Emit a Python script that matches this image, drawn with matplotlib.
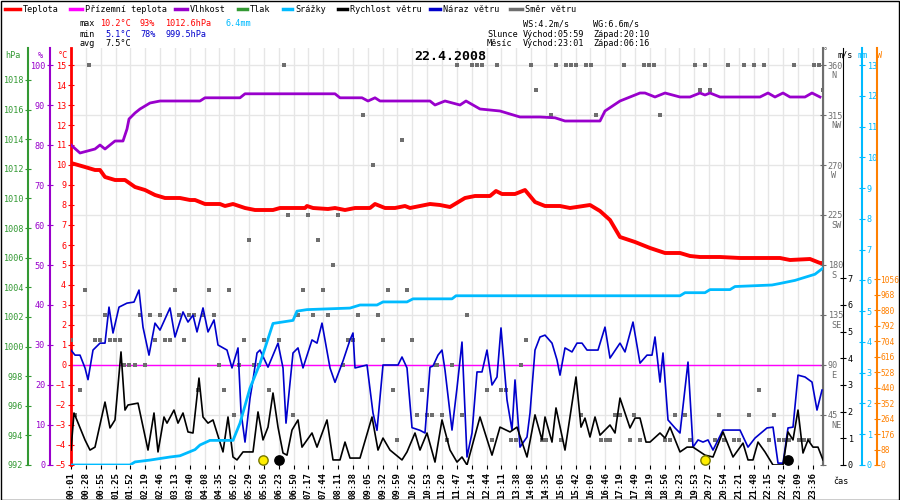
import matplotlib
matplotlib.use("Agg")
import matplotlib.pyplot as plt
from matplotlib.lines import Line2D
import numpy as np

plt.rcParams['font.family'] = ['DejaVu Sans Mono']
FS = 6.1

# ---- data (x = position on the time axis, one label step = 14.84) ----
time_labels = ["00:01","00:28","00:55","01:25","01:52","02:19","02:46","03:13","03:40","04:08",
               "04:35","05:02","05:29","05:56","06:23","06:50","07:17","07:44","08:11","08:38",
               "09:05","09:32","09:59","10:26","10:53","11:20","11:47","12:14","12:44","13:11",
               "13:38","14:08","14:35","15:05","15:42","16:09","16:46","17:19","17:49","18:19",
               "18:56","19:23","19:53","20:27","20:54","21:21","21:48","22:15","22:42","23:09","23:36"]
STEP = 14.84

temp_x = [0,14,24,29,34,44,54,64,74,84,94,109,119,124,134,149,154,162,174,184,202,209,234,236,242,
          257,264,274,284,299,304,314,324,334,339,349,359,369,379,394,404,419,425,431,444,454,464,
          474,489,499,519,529,539,549,564,579,594,609,619,629,649,669,709,719,739,749,752]
temp_y = [10.1,9.9,9.75,9.75,9.4,9.25,9.25,8.9,8.75,8.5,8.35,8.35,8.25,8.25,8.05,8.05,7.95,8.05,7.85,
          7.75,7.75,7.85,7.85,7.95,7.85,7.8,7.85,7.75,7.85,7.85,8.05,7.85,7.85,7.95,7.85,7.95,8.05,
          8.0,7.9,8.35,8.45,8.45,8.7,8.55,8.55,8.75,8.15,7.95,7.95,7.85,8.0,7.7,7.25,6.4,6.15,5.85,
          5.6,5.6,5.45,5.4,5.4,5.35,5.35,5.25,5.3,5.1,5.1]

hum_x = [0,9,24,29,34,44,52,56,58,64,69,79,89,129,134,169,174,264,269,291,297,304,309,359,364,374,
         389,395,409,429,449,469,484,494,529,534,549,559,569,574,584,594,609,619,629,634,639,649,
         689,697,704,712,719,734,741,749]
hum_y = [80,78,79,80,79,81,81,84,86.5,88,89,90.5,91,91,91.8,91.8,92.8,92.8,91.8,91.8,91,91.8,91,91,
         90,91,90,91,89,88.5,87,87,86.8,86,86,88.5,91,92,93,93,92,93,92,92,93,92.5,93,92,92,93,92,
         93,92,92,93,92]

rain_x = [0,59,64,79,99,109,124,129,139,162,169,179,189,202,222,226,236,279,289,306,312,336,342,
          381,385,609,614,634,639,659,664,701,709,724,734,744,752]
rain_y = [0,0,0.1,0.16,0.26,0.3,0.5,0.65,0.8,0.8,1.36,2.5,3.3,4.6,4.7,5.0,5.05,5.1,5.2,5.2,5.3,5.3,
          5.4,5.4,5.5,5.5,5.6,5.6,5.7,5.7,5.8,5.85,5.9,6.0,6.1,6.2,6.4]

ws_x = [0,3,14,19,24,34,39,44,50,54,57,67,77,83,87,93,96,103,107,112,117,122,128,132,137,142,152,
        157,162,166,172,182,187,192,197,202,207,212,216,221,227,231,241,246,256,262,269,274,279,
        289,301,307,312,319,331,336,344,349,356,364,371,379,386,391,396,409,421,429,439,446,456,
        464,471,474,481,485,494,505,510,514,519,524,529,539,544,549,554,559,564,569,575,579,589,
        594,599,609,616,622,634,642,652,662,672,677,682,687,694,702,712,717,722,727,732,737,742,
        747,752]
ws_y = [0.56,1.95,0.94,0.56,0.67,2.36,1.39,1.69,4.24,2.06,2.25,2.32,0.56,1.95,0.49,1.8,1.57,2.06,
        1.57,1.95,1.24,1.2,3.26,1.8,1.57,1.69,0.49,1.8,0.3,0.19,0.49,0.49,1.99,0.94,1.42,2.7,1.42,
        0.45,0.37,1.31,1.69,0.67,1.2,0.67,1.69,0.19,0.19,0.86,0.26,0.26,1.8,0.56,1.01,0.56,0.19,
        0.49,1.2,0.56,1.2,0.11,1.69,0.56,0.11,0.3,0,1.8,0.37,1.42,1.24,1.42,0.3,1.88,0.94,1.8,
        0.86,2.14,0.56,3.3,1.42,1.76,1.05,1.8,1.12,1.5,1.2,2.51,1.95,1.39,1.76,1.76,0.86,0.86,1.2,
        1.01,1.42,0.49,0.67,0.67,0.37,0.3,1.24,0.3,0.82,0.19,0.19,0.86,0.49,0,0,1.24,0.94,2.06,
        0.45,0.94,0.67,0.67,0.19]

wg_x = [0,4,9,14,17,22,29,34,38,42,48,56,63,68,72,78,84,89,99,104,112,117,122,126,132,137,143,
        147,156,161,167,170,174,179,182,186,189,197,207,212,215,222,227,232,241,246,251,259,264,
        272,279,282,284,296,302,306,312,327,331,336,341,349,354,359,362,367,371,374,381,386,391,
        396,401,406,411,416,421,426,430,436,441,444,449,456,459,464,469,474,481,486,489,494,501,
        506,511,516,527,534,539,549,554,562,569,576,581,584,589,592,597,604,609,617,622,627,632,
        637,642,652,669,677,684,696,702,707,712,717,722,727,734,741,746,751]
wg_y = [4.31,4.12,4.12,3.64,3.2,4.31,4.57,4.57,5.92,4.95,5.92,6.07,6.11,6.56,5.17,4.12,5.32,5.06,
        5.89,4.8,5.74,5.36,5.62,4.99,5.89,4.99,5.44,4.5,4.31,3.64,4.39,2.0,0.86,2.5,3.19,4.2,4.31,
        3.67,4.57,3.64,1.57,4.2,4.39,3.64,4.69,4.57,5.32,3.64,3.1,3.9,4.69,4.95,3.64,3.75,1.95,1.3,
        3.75,3.75,4.05,3.64,1.4,1.3,1.2,3.67,3.71,4.12,4.31,3.56,1.31,2.89,4.61,0.3,1.2,3.49,3.49,
        4.31,3.0,3.3,5.14,2.44,1.31,3.19,0.67,1.05,1.95,4.31,4.8,4.87,4.57,3.94,3.37,4.39,4.24,
        4.57,4.57,4.31,4.31,5.17,4.01,4.57,4.24,5.36,3.82,4.12,4.12,4.8,3.11,4.2,1.69,1.39,1.2,
        3.86,0.67,0.94,0.86,0.94,0.56,1.31,1.31,0.67,1.01,1.39,1.42,0.07,0.07,1.39,1.42,3.37,3.3,
        3.11,2.06,2.81]

wind_dir = {
    360: [18,213,386,401,406,411,426,460,485,495,500,505,515,520,553,573,578,583,624,634,657,673,
          683,693,723,743,748],
    337.5: [465,629,639,752],
    315: [292,480,525,589],
    292.5: [331],
    270: [302],
    225: [217,237,267],
    202.5: [178,247],
    180: [262],
    157.5: [14,104,138,158,232,252,317,336],
    135: [34,69,79,89,108,118,123,132,143,227,242,257,287,307,396],
    112.5: [0,24,29,39,44,49,84,94,99,113,173,193,208,277,282,312,341,455],
    90: [53,58,64,74,148,168,183,188,272,365,366,381,450],
    67.5: [9,127,153,198,322,351,416,430,435,688],
    45: [4,163,222,346,356,361,371,391,510,544,549,563,604,614,648,678,703],
    22.5: [326,376,421,440,445,471,475,490,530,535,539,559,569,594,599,619,644,653,663,668,698,
           708,713,718,728,733,738],
}
sun_x = [192, 634]
moon_x = [208, 717]

RED, MAG, PUR, GRN, CYAN, BLUE, GRAY, ORG = "#ff0000", "#ff00ff", "#9900cc", "#339933", "#00bbff", "#0000cc", "#6e6e6e", "#ff8000"

W, H = 900, 500
fig = plt.figure(figsize=(9, 5), dpi=100)
fig.patch.set_facecolor("white")
ax = fig.add_axes([71 / W, 35 / H, 752 / W, 417 / H])
XMAX = 752
TOP = 417 / 400  # fraction of axis above the top tick

def pfx(px):
    return (px - 71) / 752

ax.set_xlim(0, XMAX)
ax.set_ylim(-5, -5 + 20 * TOP)
xt = np.arange(len(time_labels)) * STEP
ax.set_xticks(xt)
ax.set_xticklabels(time_labels, rotation=90, fontsize=FS + 0.4, fontweight="bold")
ax.tick_params(axis="x", length=3, pad=2)
for x in xt:
    ax.axvline(x, color="#e6e6e6", lw=1, zorder=0)

# direction axis (right edge)
axd = ax.twinx()
axd.set_ylim(0, 360 * TOP)
axd.set_yticks(np.arange(0, 361, 45))
axd.set_yticklabels([str(v) if v else "" for v in range(0, 361, 45)], fontsize=FS, color=GRAY)
for v in range(45, 361, 45):
    ax.axhline(-5 + v / 18, color="#e6e6e6", lw=1, zorder=0)
for v, nm in zip(range(45, 361, 45), ["NE", "E", "SE", "S", "SW", "W", "NW", "N"]):
    axd.annotate(nm, (1, v), xycoords=("axes fraction", "data"), xytext=(6, -4),
                 textcoords="offset points", fontsize=FS, color=GRAY, va="top")
axd.tick_params(axis="y", direction="inout", length=5, colors=GRAY, pad=1)
axd.spines["right"].set_color(GRAY)
axd.spines["right"].set_linewidth(1.5)

ax.axhline(0, color=MAG, lw=1, zorder=2)

# left axes
ax.set_yticks(np.arange(-5, 16))
ax.tick_params(axis="y", direction="inout", length=5, colors=RED, labelsize=FS, pad=1)
ax.spines["left"].set_color(RED)
ax.spines["left"].set_linewidth(2)
for s in ["top", "bottom"]:
    ax.spines[s].set_visible(False)
for s in ["top", "bottom", "left"]:
    axd.spines[s].set_visible(False)

axh = ax.twinx()
axh.set_ylim(0, 100 * TOP)
axh.yaxis.tick_left()
axh.spines["left"].set_position(("axes", pfx(50)))
axh.set_yticks(np.arange(0, 101, 10))
axh.tick_params(axis="y", direction="inout", length=5, colors=PUR, labelsize=FS, pad=1)
axh.spines["left"].set_color(PUR)
axh.spines["left"].set_linewidth(1.5)

axp = ax.twinx()
axp.set_ylim(992, 992 + 26 * TOP * 400 / 385)
axp.yaxis.tick_left()
axp.spines["left"].set_position(("axes", pfx(28)))
axp.set_yticks(np.arange(992, 1019, 2))
axp.tick_params(axis="y", direction="inout", length=5, colors=GRN, labelsize=FS, pad=1)
axp.spines["left"].set_color(GRN)
axp.spines["left"].set_linewidth(1.5)

axs = ax.twinx()
axs.set_ylim(0, 15 * TOP)
axs.spines["right"].set_position(("axes", pfx(843)))
axs.set_yticks(np.arange(0, 8))
axs.tick_params(axis="y", direction="inout", length=5, colors="black", labelsize=FS, pad=1)

axm = ax.twinx()
axm.set_ylim(0, 13 * TOP)
axm.spines["right"].set_position(("axes", pfx(862)))
axm.set_yticks(np.arange(0, 14))
axm.tick_params(axis="y", direction="inout", length=5, colors=CYAN, labelsize=FS, pad=1)
axm.spines["right"].set_color(CYAN)
axm.spines["right"].set_linewidth(1.5)

axw = ax.twinx()
axw.set_ylim(0, 2272 * TOP)
axw.spines["right"].set_position(("axes", pfx(877)))
axw.set_yticks(np.arange(0, 1057, 88))
axw.tick_params(axis="y", direction="inout", length=4, colors=ORG, labelsize=FS - 0.4, pad=0.5)
axw.spines["right"].set_color(ORG)
axw.spines["right"].set_linewidth(1.5)

for a in [axh, axp, axs, axm, axw]:
    for s in ["top", "bottom"]:
        a.spines[s].set_visible(False)
for a in [axh, axp]:
    a.spines["right"].set_visible(False)
for a in [axs, axm, axw]:
    a.spines["left"].set_visible(False)

# series
for deg, xs in wind_dir.items():
    axd.scatter(xs, [deg] * len(xs), marker="s", s=12, color=GRAY, zorder=3, linewidths=0)
axm.plot(rain_x, rain_y, color=CYAN, lw=2, zorder=4)
axs.plot(wg_x, wg_y, color=BLUE, lw=1.2, zorder=5)
axs.plot(ws_x, ws_y, color="black", lw=1.2, zorder=6)
axh.plot(hum_x, hum_y, color=PUR, lw=2, zorder=5)
ax.plot(temp_x, temp_y, color=RED, lw=2.8, zorder=6)
axs.scatter(sun_x, [0.2] * 2, s=45, color="#ffee00", edgecolors="#777700", zorder=7, clip_on=False)
axs.scatter(moon_x, [0.2] * 2, s=45, color="black", zorder=7, clip_on=False)

# unit labels
def ftxt(px, py, s, **kw):
    fig.text(px / W, 1 - py / H, s, fontsize=FS, va="center", **kw)

ftxt(5, 55, "hPa", color=GRN)
ftxt(38, 55, "%", color=PUR)
ftxt(58, 55, "°C", color=RED)
ftxt(823, 52, "°", color=GRAY)
ftxt(838, 55, "m/s", color="black")
ftxt(858, 55, "mm", color=CYAN)
ftxt(877, 55, "W", color=ORG)
ftxt(833, 481, "čas", color="black")

# legend row
legend = [(5, 20, "Teplota", RED), (70, 82, "Přízemní teplota", MAG), (175, 187, "Vlhkost", PUR),
          (238, 247, "Tlak", GRN), (283, 292, "Srážky", CYAN), (338, 347, "Rychlost větru", "black"),
          (430, 440, "Náraz větru", BLUE), (510, 522, "Směr větru", GRAY)]
for x0, x1, name, c in legend:
    fig.add_artist(Line2D([x0 / W, x1 / W], [1 - 9 / H] * 2, color=c, lw=2.5))
    ftxt(x1 + 3, 9, name, color="black")

# statistics
ftxt(80, 24, "max"); ftxt(100, 24, "10.2°C", color=RED); ftxt(140, 24, "93%", color=RED)
ftxt(165, 24, "1012.6hPa", color=RED); ftxt(225, 24, "6.4mm", color=CYAN)
ftxt(80, 34, "min"); ftxt(105, 34, "5.1°C", color=BLUE); ftxt(140, 34, "78%", color=BLUE)
ftxt(165, 34, "999.5hPa", color=BLUE)
ftxt(80, 44, "avg"); ftxt(105, 44, "7.5°C")
ftxt(523, 24, "WS:4.2m/s"); ftxt(593, 24, "WG:6.6m/s")
ftxt(487, 34, "Slunce"); ftxt(523, 34, "Východ:05:59"); ftxt(593, 34, "Západ:20:10")
ftxt(487, 44, "Měsíc"); ftxt(523, 44, "Východ:23:01"); ftxt(593, 44, "Západ:06:16")
fig.text(450 / W, 1 - 57 / H, "22.4.2008", fontsize=9.5, fontweight="bold", ha="center", va="center")

fig.add_artist(plt.Rectangle((0.001, 0.001), 0.998, 0.998, fill=False, ec="black", lw=1,
                             transform=fig.transFigure))
fig.savefig("out.png", dpi=100)
